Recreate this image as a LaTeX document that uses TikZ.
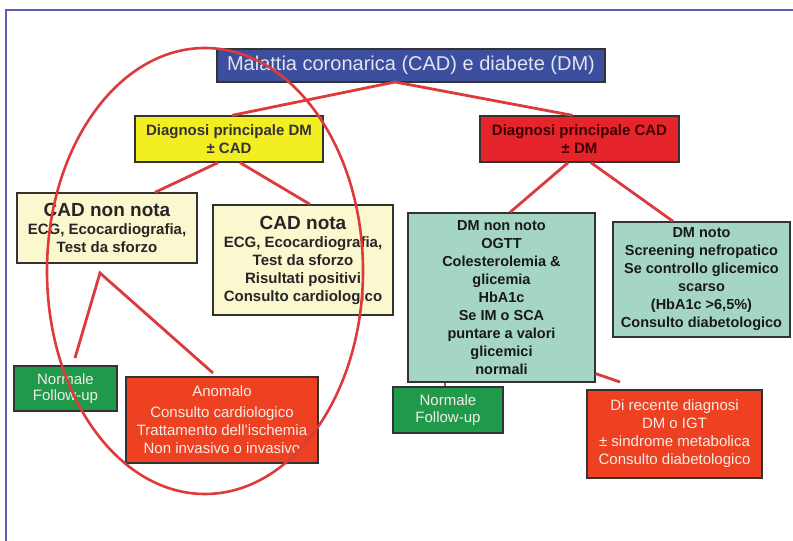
\documentclass[tikz,border=0pt]{standalone}
\usepackage{fontspec}
\setmainfont{Liberation Sans}
\definecolor{titleblue}{HTML}{3C4E9E}
\definecolor{titletext}{HTML}{E2E4EE}
\definecolor{ybox}{HTML}{F3EE22}
\definecolor{rbox}{HTML}{E6242B}
\definecolor{cream}{HTML}{FBF7CF}
\definecolor{teal}{HTML}{A5D6C4}
\definecolor{gbox}{HTML}{1F9A4A}
\definecolor{obox}{HTML}{EE4122}
\definecolor{linered}{HTML}{DC3A3B}
\definecolor{framecol}{HTML}{5B5EB5}
\definecolor{lighttext}{HTML}{F4ECE6}
\begin{document}
\begin{tikzpicture}[x=1pt,y=-1pt,
  box/.style={draw=black!80, line width=1.3pt, inner sep=0pt, align=center},
  titlebox/.style={box, fill=titleblue, text=titletext, font=\fontsize{20}{22}\selectfont},
  yelbox/.style={box, fill=ybox, text=black!80, font=\bfseries\fontsize{15}{18}\selectfont},
  redbox/.style={box, fill=rbox, text=black!75!red, font=\bfseries\fontsize{15}{18}\selectfont},
  creambox/.style={box, fill=cream, text=black!85, font=\bfseries\fontsize{15}{18}\selectfont},
  tealbox/.style={box, fill=teal, text=black!90, font=\bfseries\fontsize{14.5}{18}\selectfont},
  greenbox/.style={box, fill=gbox, text=lighttext, font=\fontsize{15}{16.5}\selectfont},
  orangebox/.style={box, fill=obox, text=lighttext, font=\fontsize{15}{18}\selectfont},
  conn/.style={draw=linered, line width=2.8pt},
  big/.style={font=\bfseries\fontsize{19}{22}\selectfont}
]
\useasboundingbox (0,0) rectangle (793,541);
\fill[white] (0,0) rectangle (793,541);
\draw[framecol, line width=1.5pt] (793,10) -- (6,10) -- (6,541);

% boxes
\node[titlebox, minimum width=388pt, minimum height=33pt] (title) at (411,65.5) {Malattia coronarica (CAD) e diabete (DM)};
\node[yelbox, minimum width=188pt, minimum height=46pt] (yel) at (229,139) {Diagnosi principale DM\\ ± CAD};
\node[redbox, minimum width=199pt, minimum height=46pt] (redb) at (579.5,139) {Diagnosi principale CAD\\ ± DM};
\node[creambox, minimum width=180pt, minimum height=70pt] (cadnon) at (107,228) {{\fontsize{19}{22}\selectfont CAD non nota}\\ ECG, Ecocardiografia,\\ Test da sforzo};
\node[creambox, minimum width=180pt, minimum height=110pt] (cadnota) at (303,260) {{\fontsize{19}{22}\selectfont CAD nota}\\ ECG, Ecocardiografia,\\ Test da sforzo\\ Risultati positivi\\ Consulto cardiologico};
\node[tealbox, minimum width=187pt, minimum height=169pt] (dmnon) at (501.5,297.5) {DM non noto\\ OGTT\\ Colesterolemia \&\\ glicemia\\ HbA1c\\ Se IM o SCA\\ puntare a valori\\ glicemici\\ normali};
\node[tealbox, minimum width=177pt, minimum height=115pt] (dmnoto) at (701.5,279.5) {DM noto\\ Screening nefropatico\\ Se controllo glicemico\\ scarso\\ (HbA1c >6,5\%)\\ Consulto diabetologico};
\node[greenbox, minimum width=103pt, minimum height=45pt] (normL) at (65.5,388.5) {Normale\\ Follow-up};
\node[orangebox, minimum width=192pt, minimum height=86pt] (anom) at (222,420) {Anomalo\\[3pt] Consulto cardiologico\\ Trattamento dell'ischemia\\ Non invasivo o invasivo};
\node[greenbox, minimum width=110pt, minimum height=46pt] (normR) at (448,410) {Normale\\ Follow-up};
\node[orangebox, minimum width=175pt, minimum height=88pt] (direc) at (674.5,434) {Di recente diagnosi\\ DM o IGT\\ ± sindrome metabolica\\ Consulto diabetologico};

% connectors
\coordinate (apex) at (395,82);
\draw[conn] ([xshift=3pt]yel.north) -- (apex) -- ([xshift=-7pt]redb.north);
\draw[conn] ([xshift=-11pt]yel.south) -- ([xshift=48pt]cadnon.north);
\draw[conn] ([xshift=11pt]yel.south) -- ([xshift=7pt]cadnota.north);
\draw[conn] ([xshift=-11.5pt]redb.south) -- ([xshift=8.5pt]dmnon.north);
\draw[conn] ([xshift=11.5pt]redb.south) -- ([xshift=-28.5pt]dmnoto.north);
\coordinate (vtop) at (100,273);
\coordinate (vl) at (75,358);
\coordinate (vr) at (213,373);
\draw[conn] (vl) -- (vtop) -- (vr);
\draw[conn] ([xshift=-3pt]normR.north) -- ([xshift=-56.5pt]dmnon.south);
\coordinate (dr) at (620,382);
\draw[conn] ([yshift=9pt]dmnon.south east) -- (dr);

% hand-drawn ellipse
\draw[linered, line width=2.6pt] (205,271) ellipse [x radius=158pt, y radius=223pt];
\end{tikzpicture}
\end{document}
